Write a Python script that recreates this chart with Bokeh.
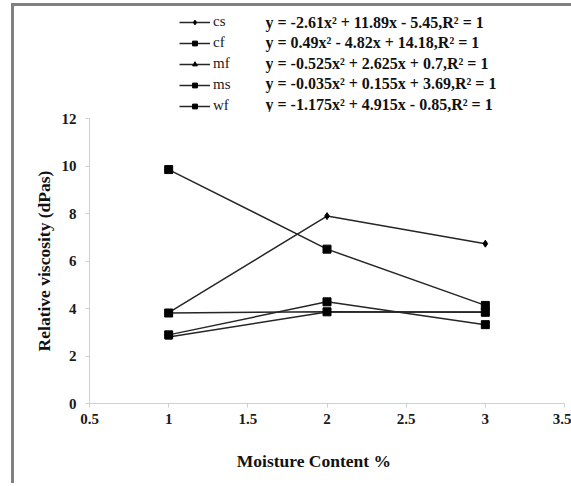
from bokeh.plotting import figure
from bokeh.layouts import column
from bokeh.models import (Legend, LegendItem, Label, FixedTicker,
                          NumeralTickFormatter, Range1d)
from bokeh.embed import file_html
from bokeh.resources import INLINE

# ---- data ----
moisture = [1, 2, 3]
series_names = ["cs", "cf", "mf", "ms", "wf"]
cs = [3.83, 7.89, 6.73]
cf = [9.85, 6.50, 4.13]
mf = [2.80, 3.85, 3.85]
ms = [3.81, 3.86, 3.84]
wf = [2.89, 4.28, 3.32]
equations = [
    "y = -2.61x² + 11.89x - 5.45,R² = 1",
    "y = 0.49x² - 4.82x + 14.18,R² = 1",
    "y = -0.525x² + 2.625x + 0.7,R² = 1",
    "y = -0.035x² + 0.155x + 3.69,R² = 1",
    "y = -1.175x² + 4.915x - 0.85,R² = 1",
]
x_ticks = [0.5, 1, 1.5, 2, 2.5, 3, 3.5]
y_ticks = [0, 2, 4, 6, 8, 10, 12]

SERIF = "Liberation Serif"
LINE = "#262626"
markers = {"cs": ("diamond", 7), "cf": ("square", 8), "mf": ("triangle", 7),
           "ms": ("square", 8), "wf": ("square", 8)}
values = {"cs": cs, "cf": cf, "mf": mf, "ms": ms, "wf": wf}

# ---- main chart ----
p = figure(width=557, height=374, output_backend="svg", toolbar_location=None,
           x_range=Range1d(0.5, 3.5), y_range=Range1d(0, 12),
           min_border_left=75, min_border_right=7, min_border_top=6,
           min_border_bottom=83)
p.outline_line_color = None
p.grid.visible = False

for name in series_names:
    ys = values[name]
    p.line(moisture, ys, line_color=LINE, line_width=1.5)
    m, s = markers[name]
    p.scatter(moisture, ys, marker=m, size=s, fill_color="black", line_color="black")

for ax in (p.xaxis[0], p.yaxis[0]):
    ax.axis_line_color = "#d0d0d0"
    ax.major_tick_line_color = "#d0d0d0"
    ax.minor_tick_line_color = None
    ax.major_tick_in = 0
    ax.major_tick_out = 4
    ax.major_label_text_font = SERIF
    ax.major_label_text_font_style = "bold"
    ax.major_label_text_font_size = "15px"
    ax.major_label_text_color = "#1a1a1a"
    ax.axis_label_text_font = SERIF
    ax.axis_label_text_font_style = "bold"
    ax.axis_label_text_font_size = "17.5px"
    ax.axis_label_text_color = "#111111"

p.xaxis.ticker = FixedTicker(ticks=x_ticks)
p.yaxis.ticker = FixedTicker(ticks=y_ticks)
p.xaxis.formatter = NumeralTickFormatter(format="0.[0]")
p.yaxis.formatter = NumeralTickFormatter(format="0")
p.xaxis.axis_label = "Moisture Content  %\u00a0\u00a0\u00a0\u00a0\u00a0"
p.yaxis.axis_label = "Relative viscosity (dPas)"
p.xaxis.major_label_standoff = 6
p.xaxis.axis_label_standoff = 24
p.yaxis.major_label_standoff = 9
p.yaxis.axis_label_standoff = 5

# ---- legend / equation strip (same series, ranges placed away from the data) ----
top = figure(width=557, height=106, output_backend="svg", toolbar_location=None,
             x_range=Range1d(100, 101), y_range=Range1d(100, 101),
             x_axis_location=None, y_axis_location=None,
             min_border_left=0, min_border_right=0,
             min_border_top=0, min_border_bottom=0)
top.outline_line_color = None
top.grid.visible = False

items = []
for name in series_names:
    ys = values[name]
    m, s = markers[name]
    r1 = top.line(moisture, ys, line_color=LINE, line_width=1.5)
    r2 = top.scatter(moisture, ys, marker=m, size=s - 1, fill_color="black",
                     line_color="black")
    items.append(LegendItem(label=name, renderers=[r1, r2]))

legend = Legend(items=items, location=(90, -2), orientation="vertical",
                margin=0, padding=0, spacing=4, label_height=12,
                glyph_height=12, glyph_width=31, label_standoff=3,
                border_line_color=None, background_fill_alpha=0,
                label_text_font=SERIF, label_text_font_size="15px",
                label_text_color="#1a1a1a")
top.add_layout(legend)

for i, eq in enumerate(equations):
    top.add_layout(Label(x=176, y=90.5 - 20.5 * i, x_units="screen", y_units="screen",
                         text=eq, text_font=SERIF, text_font_style="bold",
                         text_font_size="16px", text_baseline="middle",
                         text_color="#111111"))

layout = column(top, p, spacing=0, margin=(6, 0, 0, 14),
                styles={"box-shadow": "-3px -3px 0 0 #808080, 0 -3px 0 0 #808080"})

open("out.html", "w").write(file_html(layout, INLINE))
